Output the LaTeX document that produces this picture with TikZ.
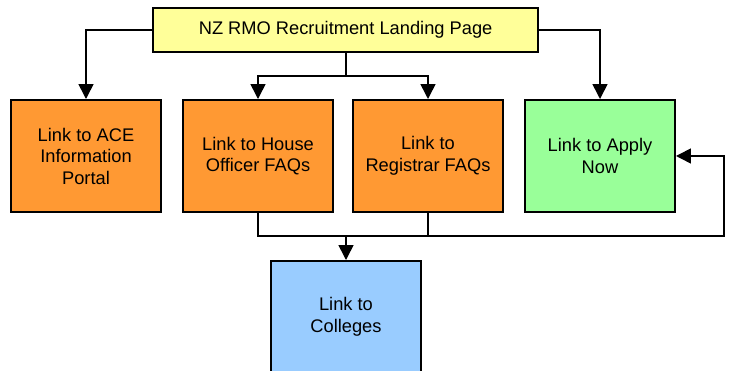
\documentclass[tikz,border=0pt]{standalone}
\usepackage{fontspec}
\setmainfont{Liberation Sans}
\usetikzlibrary{arrows.meta}

\tikzset{
    page/.style={draw, line width=1.4pt, minimum width=3.75cm, minimum height=2.8cm, inner sep=0pt, align=center, font=\fontsize{13}{15.3}\selectfont},
    link/.style={line width=1.1pt},
    arr/.style={link, -{Triangle[length=10.5pt,width=10.5pt]}}
}
\definecolor{landing}{HTML}{FFFF99}
\definecolor{faq}{HTML}{FF9933}
\definecolor{apply}{HTML}{99FF99}
\definecolor{college}{HTML}{99CCFF}

\begin{document}
\begin{tikzpicture}

    \clip (0,0) rectangle (18.25,9.275);

    \node[page, fill=landing, minimum width=9.625cm, minimum height=1.1cm] (land) at (8.64,8.525) {NZ RMO Recruitment Landing Page};

    \node[page, fill=faq] (ace) at (2.15,5.375) {Link to ACE\\Information\\Portal};
    \node[page, fill=faq] (house) at (6.45,5.375) {Link to House\\Officer FAQs};
    \node[page, fill=faq] (reg) at (10.7,5.375) {Link to\\Registrar FAQs};
    \node[page, fill=apply] (now) at (15.0,5.375) {Link to Apply\\Now};
    \node[page, fill=college] (coll) at (8.65,1.35) {Link to\\Colleges};

    \coordinate (fork) at (8.65,7.375);
    \coordinate (merge) at (8.65,3.375);
    \coordinate (back) at (18.1,3.375);

    \draw[arr] (land.west) -| (ace.north);
    \draw[arr] (land.east) -| (now.north);
    \draw[link] (fork |- land.south) -- (fork);
    \draw[arr] (fork) -| (house.north);
    \draw[arr] (fork) -| (reg.north);

    \draw[link] (house.south) |- (merge) -| (reg.south);
    \draw[arr] (reg.south) |- (back) |- (now.east);
    \draw[arr] (merge) -- (coll.north);

\end{tikzpicture}
\end{document}
